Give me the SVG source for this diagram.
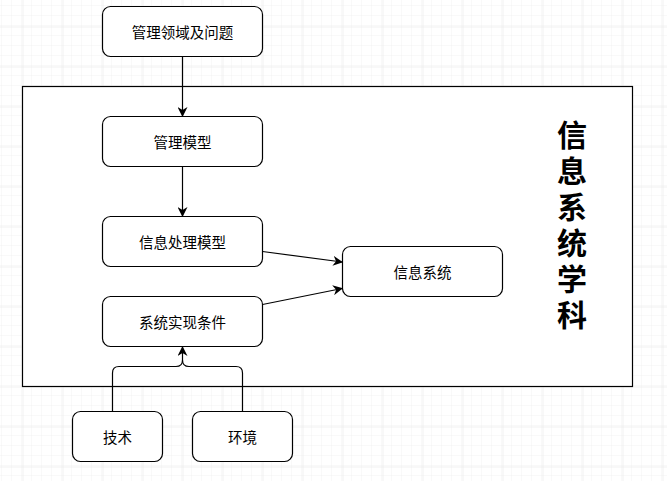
<svg xmlns="http://www.w3.org/2000/svg" width="667" height="481" viewBox="0 0 667 481">
<defs>
<pattern id="minor" x="2" y="6" width="10" height="10" patternUnits="userSpaceOnUse">
<path d="M10 0V10M0 10H10" fill="none" stroke="#f2f2f2" stroke-width="1"/>
</pattern>
<pattern id="major" x="22.5" y="26.5" width="40" height="40" patternUnits="userSpaceOnUse">
<path d="M0 0V40M0 0H40" fill="none" stroke="#e3e3e3" stroke-width="1"/>
</pattern>
<marker id="arr" viewBox="0 0 10 10" refX="9" refY="5" markerWidth="10" markerHeight="10" markerUnits="userSpaceOnUse" orient="auto">
<path d="M0 0L10 5L0 10L3 5Z" fill="#000"/>
</marker>
</defs>
<style>
.node rect{fill:#fff;stroke:#000;stroke-width:1.2}
.node text{font-family:"Noto Sans CJK SC","Liberation Sans",sans-serif;font-size:14.5px;fill:#000;text-anchor:middle;dominant-baseline:central}
.edge{fill:none;stroke:#000;stroke-width:1.2}
.title{font-family:"Noto Sans CJK SC","Liberation Sans",sans-serif;font-size:30px;font-weight:bold;fill:#000;writing-mode:vertical-rl;letter-spacing:6px}
</style>
<rect width="667" height="481" fill="#fff"/>
<rect width="667" height="481" fill="url(#minor)"/>
<rect width="667" height="481" fill="url(#major)"/>

<g id="container">
<rect x="22.5" y="86.5" width="610" height="300" fill="#fff" stroke="#000" stroke-width="1.2"/>
<text class="title" x="572" y="120">信息系统学科</text>
</g>

<g id="n-domain" class="node"><rect x="102.5" y="6.5" width="160" height="50" rx="8"/><text x="182.5" y="31.5">管理领域及问题</text></g>
<g id="n-mgmt" class="node"><rect x="102.5" y="116.5" width="160" height="50" rx="8"/><text x="182.5" y="141.5">管理模型</text></g>
<g id="n-info" class="node"><rect x="102.5" y="216.5" width="160" height="50" rx="8"/><text x="182.5" y="241.5">信息处理模型</text></g>
<g id="n-cond" class="node"><rect x="102.5" y="296.5" width="160" height="50" rx="8"/><text x="182.5" y="321.5">系统实现条件</text></g>
<g id="n-sys" class="node"><rect x="342.5" y="246.5" width="160" height="50" rx="8"/><text x="422.5" y="271.5">信息系统</text></g>
<g id="n-tech" class="node"><rect x="72.5" y="411.5" width="90" height="50" rx="8"/><text x="117.5" y="436.5">技术</text></g>
<g id="n-env" class="node"><rect x="192.5" y="411.5" width="100" height="50" rx="8"/><text x="242.5" y="436.5">环境</text></g>

<g id="connectors">
<path class="edge" d="M182.5 56.5V116" marker-end="url(#arr)"/>
<path class="edge" d="M182.5 166.5V216" marker-end="url(#arr)"/>
<path class="edge" d="M262.5 251.5L342 262" marker-end="url(#arr)"/>
<path class="edge" d="M262.5 304.5L342 288.5" marker-end="url(#arr)"/>
<path class="edge" d="M112.5 411.5V373Q112.5 366.5 119 366.5H176Q182.5 366.5 182.5 360V347" marker-end="url(#arr)"/>
<path class="edge" d="M242.5 411.5V373Q242.5 366.5 236 366.5H189Q182.5 366.5 182.5 360"/>
</g>
</svg>
